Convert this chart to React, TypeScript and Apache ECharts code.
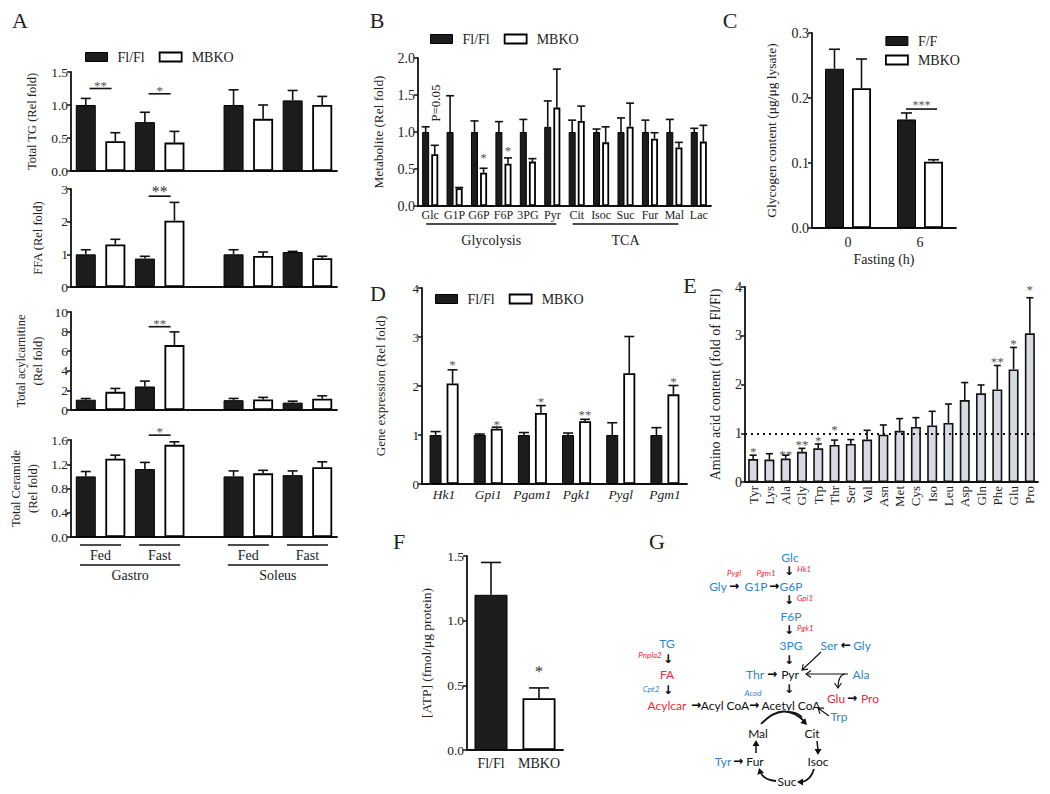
import React, { useEffect, useRef } from 'react';
import * as echarts from 'echarts';

const SERIF = '"Liberation Serif", "Times New Roman", Times, serif';
const SANS = 'Lato, "Liberation Sans", "DejaVu Sans", sans-serif';
const ARROWF = '"DejaVu Sans", Lato, sans-serif';
const INK = '#111';
const TXT = '#222';
const STAR = '#555';
const BLUE = '#2b87cf';
const RED = '#ee2a36';
const DARK = '#1c1c1c';
const GREY = '#d5dae3';

// ---------------- Panel A data ----------------
const aLegend = ['Fl/Fl', 'MBKO'];
const aConditions = ['Fed', 'Fast', 'Fed', 'Fast'];
const aTissues = ['Gastro', 'Soleus'];
const tgFl = [1.0, 0.74, 1.0, 1.07];
const tgFlErr = [0.1, 0.15, 0.23, 0.15];
const tgKo = [0.45, 0.43, 0.79, 1.0];
const tgKoErr = [0.13, 0.17, 0.21, 0.13];
const ffaFl = [1.0, 0.87, 1.0, 1.07];
const ffaFlErr = [0.14, 0.07, 0.14, 0.02];
const ffaKo = [1.3, 2.03, 0.95, 0.88];
const ffaKoErr = [0.16, 0.56, 0.12, 0.06];
const acFl = [1.05, 2.4, 1.0, 0.75];
const acFlErr = [0.12, 0.55, 0.18, 0.15];
const acKo = [1.85, 6.62, 1.07, 1.15];
const acKoErr = [0.35, 1.35, 0.22, 0.3];
const cerFl = [1.0, 1.12, 1.0, 1.02];
const cerFlErr = [0.08, 0.11, 0.09, 0.07];
const cerKo = [1.29, 1.52, 1.05, 1.15];
const cerKoErr = [0.06, 0.05, 0.05, 0.09];
const aTitles = ['Total TG (Rel fold)', 'FFA (Rel fold)', 'Total acylcarnitine\n(Rel fold)', 'Total Ceramide\n(Rel fold)'];
// significance: [row, condition index, bracket value, mark]
const aSig: [number, number, number, string][] = [
  [0, 0, 1.25, '**'], [0, 1, 1.17, '*'], [1, 1, 2.78, '**'], [2, 1, 8.5, '**'], [3, 1, 1.68, '*'],
];

// ---------------- Panel B data ----------------
const bCats = ['Glc', 'G1P', 'G6P', 'F6P', '3PG', 'Pyr', 'Cit', 'Isoc', 'Suc', 'Fur', 'Mal', 'Lac'];
const bFl = [1.0, 1.0, 1.0, 1.0, 1.0, 1.07, 1.0, 1.0, 1.0, 1.0, 1.0, 1.0];
const bFlErr = [0.07, 0.49, 0.15, 0.14, 0.17, 0.35, 0.16, 0.04, 0.19, 0.16, 0.17, 0.05];
const bKo = [0.7, 0.24, 0.45, 0.57, 0.6, 1.33, 1.15, 0.86, 1.07, 0.91, 0.79, 0.87];
const bKoErr = [0.12, 0.01, 0.06, 0.08, 0.04, 0.52, 0.2, 0.21, 0.32, 0.08, 0.07, 0.22];
const bStars: [number, number, string][] = [[2, 0.69, '*'], [3, 0.78, '*']];
const bNote = 'P=0.05';
const bGroups: [string, number, number][] = [['Glycolysis', 0, 5], ['TCA', 6, 10]];

// ---------------- Panel C data ----------------
const cCats = ['0', '6'];
const cLegend = ['F/F', 'MBKO'];
const cFF = [0.245, 0.167];
const cFFErr = [0.03, 0.01];
const cKo = [0.215, 0.102];
const cKoErr = [0.045, 0.003];
const cSig: [number, number, string] = [1, 0.183, '***'];

// ---------------- Panel D data ----------------
const dCats = ['Hk1', 'Gpi1', 'Pgam1', 'Pgk1', 'Pygl', 'Pgm1'];
const dFl = [1.0, 1.0, 1.0, 1.0, 1.0, 1.0];
const dFlErr = [0.07, 0.02, 0.05, 0.04, 0.25, 0.15];
const dKo = [2.05, 1.13, 1.45, 1.28, 2.26, 1.83];
const dKoErr = [0.28, 0.03, 0.15, 0.04, 0.75, 0.18];
const dStars: [number, number, string][] = [[0, 2.49, '*'], [1, 1.27, '*'], [2, 1.73, '*'], [3, 1.48, '**'], [5, 2.15, '*']];

// ---------------- Panel E data ----------------
const eCats = ['Tyr', 'Lys', 'Ala', 'Gly', 'Trp', 'Thr', 'Ser', 'Val', 'Asn', 'Met', 'Cys', 'Iso', 'Leu', 'Asp', 'Gln', 'Phe', 'Glu', 'Pro'];
const eVal = [0.47, 0.46, 0.48, 0.62, 0.69, 0.76, 0.78, 0.87, 0.97, 1.05, 1.13, 1.16, 1.21, 1.68, 1.82, 1.9, 2.31, 3.05];
const eErr = [0.08, 0.12, 0.07, 0.07, 0.09, 0.1, 0.09, 0.19, 0.2, 0.25, 0.19, 0.29, 0.39, 0.36, 0.17, 0.49, 0.45, 0.73];
const eStars: [number, number, string][] = [[0, 0.68, '*'], [2, 0.61, '**'], [3, 0.82, '**'], [4, 0.91, '*'], [5, 1.14, '*'], [15, 2.52, '**'], [16, 2.9, '*'], [17, 4.0, '*']];
const eRef = 1;

// ---------------- Panel F data ----------------
const fCats = ['Fl/Fl', 'MBKO'];
const fVal = [1.2, 0.4];
const fErr = [0.25, 0.08];
const fStar: [number, number, string] = [1, 0.63, '*'];

// ---------------- Panel G (diagram texts) ----------------
type GT = [string, number, number, string, string];
const gTexts: GT[] = [
  ['Glc', 790, 557, BLUE, 'm'], ['↓', 789, 571, INK, 'a'], ['Hk1', 797, 569, RED, 'gl'],
  ['Gly', 718, 586, BLUE, 'm'], ['→', 734, 586, INK, 'a'], ['G1P', 756, 586, BLUE, 'm'], ['→', 774, 586, INK, 'a'], ['G6P', 791, 586, BLUE, 'm'],
  ['Pygl', 734, 573, RED, 'g'], ['Pgm1', 766, 573, RED, 'g'],
  ['↓', 789, 600, INK, 'a'], ['Gpi1', 797, 598, RED, 'gl'],
  ['F6P', 791, 616, BLUE, 'm'], ['↓', 789, 630, INK, 'a'], ['Pgk1', 797, 628, RED, 'gl'],
  ['3PG', 791, 645, BLUE, 'm'], ['Ser', 829, 645, BLUE, 'm'], ['←', 846, 645, INK, 'a'], ['Gly', 862, 645, BLUE, 'm'],
  ['↓', 789, 660, INK, 'a'],
  ['Thr', 755, 674, BLUE, 'm'], ['→', 772, 674, INK, 'a'], ['Pyr', 790, 674, INK, 'm'], ['Ala', 861, 674, BLUE, 'm'],
  ['↓', 789, 689, INK, 'a'], ['Acod', 753, 693, BLUE, 'g'],
  ['Glu', 836, 698, RED, 'm'], ['→', 852, 698, INK, 'a'], ['Pro', 870, 698, RED, 'm'],
  ['TG', 667, 643, BLUE, 'm'], ['Pnpla2', 650, 655, RED, 'g'], ['↓', 668, 659, INK, 'a'],
  ['FA', 667, 674, RED, 'm'], ['Cpt2', 651, 689, BLUE, 'g'], ['↓', 668, 690, INK, 'a'],
  ['Acylcar', 667, 705, RED, 'm'], ['→', 696, 705, INK, 'a'], ['Acyl CoA', 725, 705, INK, 'm'], ['→', 754, 705, INK, 'a'], ['Acetyl CoA', 791, 705, INK, 'm'],
  ['Trp', 839, 716, BLUE, 'm'],
  ['Mal', 758, 733, INK, 'm'], ['Cit', 812, 733, INK, 'm'],
  ['Tyr', 723, 761, BLUE, 'm'], ['→', 738, 761, INK, 'a'], ['Fur', 755, 761, INK, 'm'], ['Isoc', 818, 761, INK, 'm'],
  ['Suc', 787, 781, INK, 'm'],
];

// ---------------- Layout (pixels) ----------------
const A_LEFT = 71;
const A_WIDTH = 266;
const aRows = [
  { top: 72, height: 99, max: 1.5, interval: 0.5, dec: 1, nameGap: 31 },
  { top: 189, height: 98, max: 3, interval: 1, dec: 0, nameGap: 24.5 },
  { top: 312, height: 98, max: 10, interval: 2, dec: 0, nameGap: 24.5 },
  { top: 440, height: 97, max: 1.6, interval: 0.4, dec: 1, nameGap: 29.5 },
];
const aSlotsFl = [0, 2, 5, 7];
const aSlotsKo = [1, 3, 6, 8];
const A_SLOTS = 9;
const gB = { left: 418, top: 58, width: 293, height: 148, max: 2, interval: 0.5, dec: 1, nameGap: 31 };
const gC = { left: 812, top: 33, width: 144, height: 195, max: 0.3, interval: 0.1, dec: 1, nameGap: 32 };
const gD = { left: 422, top: 288, width: 265, height: 196, max: 4, interval: 1, dec: 0, nameGap: 32.5 };
const gE = { left: 745, top: 287, width: 293, height: 195, max: 4, interval: 1, dec: 0, nameGap: 20 };
const gF = { left: 467, top: 556, width: 96, height: 194, max: 1.5, interval: 0.5, dec: 1, nameGap: 32 };

type G = { left: number; top: number; width: number; height: number; max: number };
const yPix = (g: G, v: number) => g.top + g.height * (1 - v / g.max);
const xMid = (g: G, n: number, k: number) => g.left + ((k + 0.5) * g.width) / n;

function yAxis(idx: number, g: any, name: string, nameSize: number, labelSize: number) {
  return {
    type: 'value', gridIndex: idx, min: 0, max: g.max, interval: g.interval,
    axisLine: { show: true, lineStyle: { color: INK, width: 1.8 } },
    axisTick: { show: true, length: 4, lineStyle: { color: INK, width: 1.5 } },
    axisLabel: { color: TXT, fontFamily: SERIF, fontSize: labelSize, margin: 3, formatter: (v: number) => v.toFixed(g.dec) },
    splitLine: { show: false },
    name, nameLocation: 'middle', nameRotate: 90, nameGap: g.nameGap,
    nameTextStyle: { color: TXT, fontFamily: SERIF, fontSize: nameSize, lineHeight: Math.round(nameSize * 1.35) },
  };
}
function xAxis(idx: number, data: string[], label?: any, extra?: any) {
  return {
    type: 'category', gridIndex: idx, data,
    axisLine: { show: true, onZero: false, lineStyle: { color: INK, width: 1.8 } },
    axisTick: { show: false },
    axisLabel: label ? { show: true, interval: 0, color: TXT, fontFamily: SERIF, ...label } : { show: false },
    splitLine: { show: false },
    ...(extra || {}),
  };
}
const darkStyle = { color: DARK, borderColor: '#000', borderWidth: 1 };
const whiteStyle = { color: '#fff', borderColor: '#000', borderWidth: 1.8 };
function bars(idx: number, name: string, data: any[], style: any, width: number, gap?: string) {
  return {
    type: 'bar', name, xAxisIndex: idx, yAxisIndex: idx, data, barWidth: width, barGap: gap, z: 2,
    itemStyle: style, silent: true, emphasis: { disabled: true },
  };
}
function errorBars(idx: number, points: number[][], offset: number, cap: number) {
  return {
    type: 'custom', xAxisIndex: idx, yAxisIndex: idx, silent: true, z: 3, data: points,
    renderItem: (_p: any, api: any) => {
      const base = api.coord([api.value(0), api.value(1)]);
      const top = api.coord([api.value(0), api.value(2)]);
      const x = base[0] + offset;
      const st = { stroke: INK, lineWidth: 1.6 };
      return {
        type: 'group',
        children: [
          { type: 'line', shape: { x1: x, y1: base[1], x2: x, y2: top[1] }, style: st },
          { type: 'line', shape: { x1: x - cap, y1: top[1], x2: x + cap, y2: top[1] }, style: st },
        ],
      };
    },
  };
}
const pts = (vals: number[], errs: number[], slots?: number[]) =>
  vals.map((v, i) => [slots ? slots[i] : i, v, v + errs[i]]);
function slotArray(vals: number[], slots: number[]) {
  const arr: any[] = Array(A_SLOTS).fill('-');
  slots.forEach((s, i) => { arr[s] = vals[i]; });
  return arr;
}
const legendItems = (names: string[]) => [
  { name: names[0], icon: 'rect', itemStyle: { color: DARK, borderColor: '#000', borderWidth: 1 } },
  { name: names[1], icon: 'rect', itemStyle: { color: '#fff', borderColor: '#000', borderWidth: 1.8 } },
];
function legend(names: string[], left: number, top: number, orient = 'horizontal') {
  return {
    show: true, left, top, orient, padding: 0, itemWidth: 22, itemHeight: 9, itemGap: orient === 'horizontal' ? 14 : 5,
    selectedMode: false, data: legendItems(names),
    textStyle: { fontFamily: SERIF, fontSize: 14, color: TXT, padding: [0, 0, 0, 5] },
  };
}

// ---------- graphic helpers ----------
function txt(text: string, x: number, y: number, o: any = {}) {
  return {
    type: 'text', x, y, rotation: o.rotation || 0, silent: true,
    style: {
      text, fill: o.fill || TXT, fontSize: o.size || 14, fontFamily: o.family || SERIF,
      fontStyle: o.italic ? 'italic' : 'normal', fontWeight: o.weight || 'normal',
      align: o.align || 'center', verticalAlign: o.valign || 'middle',
    },
  };
}
function ln(x1: number, y1: number, x2: number, y2: number, w = 1.5, c = INK) {
  return { type: 'line', silent: true, shape: { x1, y1, x2, y2 }, style: { stroke: c, lineWidth: w } };
}
function star(mark: string, x: number, yc: number, size = 13, fill = STAR) {
  return txt(mark, x, yc + size * 0.2, { size, fill });
}
function headFilled(x: number, y: number, ang: number, len = 6, w = 3.5) {
  const dx = Math.cos(ang), dy = Math.sin(ang);
  const bx = x - dx * len, by = y - dy * len;
  return { type: 'polygon', silent: true, shape: { points: [[x, y], [bx - dy * w, by + dx * w], [bx + dy * w, by - dx * w]] }, style: { fill: INK } };
}
function headOpen(x: number, y: number, ang: number, len = 5, w = 3.5) {
  const dx = Math.cos(ang), dy = Math.sin(ang);
  const bx = x - dx * len, by = y - dy * len;
  return { type: 'polyline', silent: true, shape: { points: [[bx - dy * w, by + dx * w], [x, y], [bx + dy * w, by - dx * w]] }, style: { stroke: INK, lineWidth: 1.1, fill: 'none' } };
}
function bez(x1: number, y1: number, cx: number, cy: number, x2: number, y2: number, w = 1.8) {
  return { type: 'bezierCurve', silent: true, shape: { x1, y1, cpx1: cx, cpy1: cy, x2, y2 }, style: { stroke: INK, lineWidth: w, fill: 'none' } };
}

function buildOption() {
  const grids: any[] = [];
  const xAxes: any[] = [];
  const yAxes: any[] = [];
  const series: any[] = [];
  const gfx: any[] = [];

  // ---------- Panel A ----------
  const aFl = [tgFl, ffaFl, acFl, cerFl];
  const aFlE = [tgFlErr, ffaFlErr, acFlErr, cerFlErr];
  const aKo = [tgKo, ffaKo, acKo, cerKo];
  const aKoE = [tgKoErr, ffaKoErr, acKoErr, cerKoErr];
  const aCatNames: string[] = [];
  for (let s = 0; s < A_SLOTS; s++) {
    const fi = aSlotsFl.indexOf(s), ki = aSlotsKo.indexOf(s);
    const ci = fi >= 0 ? fi : ki;
    aCatNames.push(ci >= 0 ? `${aTissues[Math.floor(ci / 2)]} ${aConditions[ci]} ${fi >= 0 ? aLegend[0] : aLegend[1]}` : ' ');
  }
  aRows.forEach((r, i) => {
    grids.push({ left: A_LEFT, top: r.top, width: A_WIDTH, height: r.height, outerBoundsMode: 'none' });
    xAxes.push(xAxis(i, aCatNames));
    yAxes.push(yAxis(i, r, aTitles[i], 12.5, 13.5));
    series.push(bars(i, aLegend[0], slotArray(aFl[i], aSlotsFl), darkStyle, 20, '-100%'));
    series.push(bars(i, aLegend[1], slotArray(aKo[i], aSlotsKo), whiteStyle, 20, '-100%'));
    series.push(errorBars(i, pts(aFl[i], aFlE[i], aSlotsFl), 0, 5));
    series.push(errorBars(i, pts(aKo[i], aKoE[i], aSlotsKo), 0, 5));
  });
  const aG = (i: number) => ({ left: A_LEFT, width: A_WIDTH, top: aRows[i].top, height: aRows[i].height, max: aRows[i].max });
  aSig.forEach(([row, cond, val, mark]) => {
    const g = aG(row);
    const cx = (xMid(g, A_SLOTS, aSlotsFl[cond]) + xMid(g, A_SLOTS, aSlotsKo[cond])) / 2;
    const y = yPix(g, val);
    gfx.push(ln(cx - 11, y, cx + 11, y, 1.6));
    const big = row === 1;
    gfx.push(star(mark, cx, y - (big ? 8 : 6), big ? 16 : 13, big ? '#333' : STAR));
  });
  const aBottom = aRows[3].top + aRows[3].height;
  const gA3 = aG(3);
  aConditions.forEach((c, i) => {
    const cx = (xMid(gA3, A_SLOTS, aSlotsFl[i]) + xMid(gA3, A_SLOTS, aSlotsKo[i])) / 2;
    gfx.push(ln(cx - 20.5, aBottom + 8, cx + 20.5, aBottom + 8, 1.5));
    gfx.push(txt(c, cx, aBottom + 18, { size: 14 }));
  });
  aTissues.forEach((t, ti) => {
    const c0 = (xMid(gA3, A_SLOTS, aSlotsFl[2 * ti]) + xMid(gA3, A_SLOTS, aSlotsKo[2 * ti])) / 2 - 20.5;
    const c1 = (xMid(gA3, A_SLOTS, aSlotsFl[2 * ti + 1]) + xMid(gA3, A_SLOTS, aSlotsKo[2 * ti + 1])) / 2 + 20.5;
    gfx.push(ln(c0, aBottom + 28, c1, aBottom + 28, 1.5));
    gfx.push(txt(t, (c0 + c1) / 2, aBottom + 38, { size: 14 }));
  });

  // ---------- Panel B (index 4) ----------
  grids.push({ left: gB.left, top: gB.top, width: gB.width, height: gB.height, outerBoundsMode: 'none' });
  xAxes.push(xAxis(4, bCats, { fontSize: 12, margin: 3 }));
  yAxes.push(yAxis(4, gB, 'Metabolite (Rel fold)', 13.3, 14));
  const bOff = (7 + 7 * 0.3) / 2;
  series.push(bars(4, aLegend[0], bFl, darkStyle, 7, '30%'));
  series.push(bars(4, aLegend[1], bKo, whiteStyle, 7, '30%'));
  series.push(errorBars(4, pts(bFl, bFlErr), -bOff, 4));
  series.push(errorBars(4, pts(bKo, bKoErr), bOff, 4));
  bStars.forEach(([k, v, m]) => gfx.push(star(m, xMid(gB, bCats.length, k) + bOff, yPix(gB, v), 13)));
  gfx.push(txt(bNote, xMid(gB, bCats.length, 0) + bOff + 1, yPix(gB, 1.39), { size: 13, rotation: Math.PI / 2 }));
  const bBottom = gB.top + gB.height;
  bGroups.forEach(([label, from, to]) => {
    const x0 = xMid(gB, bCats.length, from) - 4;
    const x1 = xMid(gB, bCats.length, to) + 4;
    gfx.push(ln(x0, bBottom + 18, x1, bBottom + 18, 1.6));
    gfx.push(txt(label, (x0 + x1) / 2, bBottom + 34, { size: 14 }));
  });

  // ---------- Panel C (index 5) ----------
  grids.push({ left: gC.left, top: gC.top, width: gC.width, height: gC.height, outerBoundsMode: 'none' });
  xAxes.push(xAxis(5, cCats, { fontSize: 14, margin: 7 }, {
    name: 'Fasting (h)', nameLocation: 'middle', nameGap: 24,
    nameTextStyle: { color: TXT, fontFamily: SERIF, fontSize: 14 },
  }));
  yAxes.push(yAxis(5, gC, 'Glycogen content (μg/μg lysate)', 13.5, 14));
  const cOff = (19 + 8) / 2;
  series.push(bars(5, cLegend[0], cFF, darkStyle, 19, '42%'));
  series.push(bars(5, cLegend[1], cKo, whiteStyle, 19, '42%'));
  series.push(errorBars(5, pts(cFF, cFFErr), -cOff, 5.5));
  series.push(errorBars(5, pts(cKo, cKoErr), cOff, 5.5));
  {
    const cx = xMid(gC, cCats.length, cSig[0]);
    const y = yPix(gC, cSig[1]);
    gfx.push(ln(cx - 14, y, cx + 17, y, 1.6));
    gfx.push(star(cSig[2], cx + 1.5, y - 6, 12));
  }

  // ---------- Panel D (index 6) ----------
  grids.push({ left: gD.left, top: gD.top, width: gD.width, height: gD.height, outerBoundsMode: 'none' });
  xAxes.push(xAxis(6, dCats, { fontSize: 13.5, fontStyle: 'italic', margin: 3 }));
  yAxes.push(yAxis(6, gD, 'Gene expression (Rel fold)', 13, 13));
  const dOff = (12 + 5) / 2;
  series.push(bars(6, aLegend[0], dFl, darkStyle, 12, '42%'));
  series.push(bars(6, aLegend[1], dKo, whiteStyle, 12, '42%'));
  series.push(errorBars(6, pts(dFl, dFlErr), -dOff, 5));
  series.push(errorBars(6, pts(dKo, dKoErr), dOff, 5));
  dStars.forEach(([k, v, m]) => gfx.push(star(m, xMid(gD, dCats.length, k) + dOff, yPix(gD, v), 13)));

  // ---------- Panel E (index 7) ----------
  grids.push({ left: gE.left, top: gE.top, width: gE.width, height: gE.height, outerBoundsMode: 'none' });
  xAxes.push(xAxis(7, eCats, { fontSize: 13, rotate: 90, margin: 4 }));
  yAxes.push(yAxis(7, gE, 'Amino acid content (fold of Fl/Fl)', 14, 14));
  series.push({
    ...bars(7, 'Amino acid', eVal, { color: GREY, borderColor: INK, borderWidth: 1.6 }, 10),
    markLine: {
      silent: true, symbol: 'none', label: { show: false },
      lineStyle: { type: [2, 4], color: INK, width: 2 },
      data: [{ yAxis: eRef }],
    },
  });
  series.push(errorBars(7, pts(eVal, eErr), 0, 3.5));
  eStars.forEach(([k, v, m]) => gfx.push(star(m, xMid(gE, eCats.length, k), yPix(gE, v), 13)));

  // ---------- Panel F (index 8) ----------
  grids.push({ left: gF.left, top: gF.top, width: gF.width, height: gF.height, outerBoundsMode: 'none' });
  xAxes.push(xAxis(8, fCats, { fontSize: 14, margin: 6 }));
  yAxes.push(yAxis(8, gF, '[ATP] (fmol/μg protein)', 13.5, 13.5));
  series.push(bars(8, 'ATP', fVal.map((v, i) => ({ value: v, itemStyle: i === 0 ? darkStyle : whiteStyle })), {}, 33));
  series.push(errorBars(8, pts(fVal, fErr), 0, 10));
  gfx.push(star(fStar[2], xMid(gF, fCats.length, fStar[0]), yPix(gF, fStar[1]), 17, '#333'));

  // ---------- Panel letters ----------
  const letters: [string, number, number][] = [
    ['A', 20, 20], ['B', 377, 20], ['C', 730, 20], ['D', 378, 293], ['E', 690, 285], ['F', 399, 541], ['G', 657, 541],
  ];
  letters.forEach(([l, x, y]) => gfx.push(txt(l, x, y, { size: 22 })));

  // ---------- Panel G diagram ----------
  gTexts.forEach(([t, x, y, c, kind]) => {
    if (kind === 'm') gfx.push(txt(t, x, y, { family: SANS, size: 12, fill: c }));
    else if (kind === 'a') gfx.push(txt(t, x, y, { family: ARROWF, size: 12, weight: 'bold', fill: '#000' }));
    else gfx.push(txt(t, x, y, { family: SANS, size: 8, italic: true, fill: c, align: kind === 'gl' ? 'left' : 'center' }));
  });
  // thin pathway arrows
  gfx.push(ln(821, 652, 802, 670, 1.1));
  gfx.push(headOpen(802, 670, Math.atan2(18, -19)));
  gfx.push(ln(848, 674, 806, 674, 1.1));
  gfx.push(headOpen(806, 674, Math.PI));
  gfx.push(bez(845, 674, 838, 675, 838, 688, 1.1));
  gfx.push(headOpen(838, 688, Math.PI / 2));
  gfx.push(ln(829, 716, 818, 708, 1.1));
  gfx.push(headOpen(818, 708, Math.atan2(-8, -11)));
  // TCA cycle
  gfx.push(bez(761, 724, 784, 700, 805, 722));
  gfx.push(headFilled(807, 725, Math.atan2(22, 21)));
  gfx.push(bez(789, 712, 797, 712, 802, 717, 1.6));
  gfx.push(ln(817, 741, 818, 750));
  gfx.push(headFilled(818, 755, Math.PI / 2));
  gfx.push(bez(814, 769, 811, 780, 802, 782));
  gfx.push(headFilled(797, 782, Math.PI));
  gfx.push(bez(776, 781, 764, 780, 761, 773));
  gfx.push(headFilled(759, 768, Math.atan2(-7, -2)));
  gfx.push(ln(756, 753, 756, 745));
  gfx.push(headFilled(756, 740, -Math.PI / 2));

  return {
    animation: false,
    backgroundColor: '#fff',
    textStyle: { fontFamily: SERIF },
    legend: [
      legend(aLegend, 85, 50),
      legend(aLegend, 430, 32),
      legend(cLegend, 885, 34, 'vertical'),
      legend(aLegend, 435, 292),
    ],
    grid: grids,
    xAxis: xAxes,
    yAxis: yAxes,
    series,
    graphic: { elements: gfx },
  };
}

export default function App() {
  const ref = useRef<HTMLDivElement>(null);
  useEffect(() => {
    document.body.style.margin = '0';
    const chart = echarts.init(ref.current!, null, { renderer: 'svg' });
    chart.setOption(buildOption() as any);
    return () => chart.dispose();
  }, []);
  return <div ref={ref} style={{ width: 1050, height: 794, background: '#fff' }} />;
}
